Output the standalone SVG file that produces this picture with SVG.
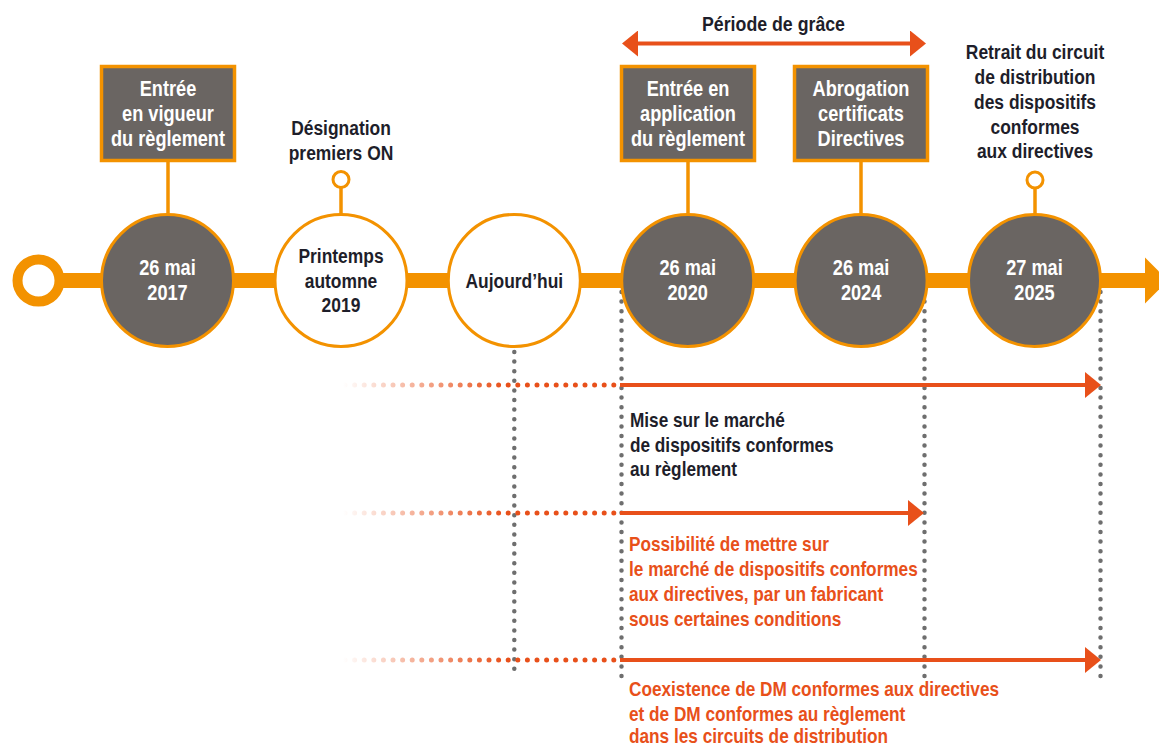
<svg xmlns="http://www.w3.org/2000/svg" width="1159" height="746" viewBox="0 0 1159 746">
<style>
text{font-family:"Liberation Sans",Arial,sans-serif;font-weight:bold;font-size:21px}
.w{fill:#ffffff;text-anchor:middle;font-size:21.5px}
.d{fill:#1e1e2a;text-anchor:middle}
.dl{fill:#1e1e2a}
.r{fill:#e8501a}
.dark{fill:#6a6562;stroke:#f39200;stroke-width:3}
.light{fill:#ffffff;stroke:#f39200;stroke-width:3}
.box{fill:#6a6562;stroke:#f39200;stroke-width:3.5}
.stem{stroke:#f39200;stroke-width:3.5;fill:none}
.ring{fill:#ffffff;stroke:#f39200;stroke-width:3}
.gdot{stroke:#6e6e6e;stroke-width:4.5;stroke-linecap:round;stroke-dasharray:0 9.6;fill:none}
.odot{stroke:url(#fade);stroke-width:5;stroke-linecap:round;stroke-dasharray:0 9.6;fill:none}
.rline{stroke:#e8501a;stroke-width:4;fill:none;marker-end:url(#rhead)}
</style>
<defs>
<marker id="rhead" markerUnits="userSpaceOnUse" markerWidth="16" markerHeight="26" refX="6" refY="13" orient="auto-start-reverse" viewBox="0 0 16 26">
<path d="M0,0 L16,13 L0,26 Z" fill="#e8501a"/>
</marker>
<linearGradient id="fade" gradientUnits="userSpaceOnUse" x1="343" y1="0" x2="505" y2="0">
<stop offset="0" stop-color="#e8501a" stop-opacity="0"/>
<stop offset="1" stop-color="#e8501a" stop-opacity="1"/>
</linearGradient>
</defs>
<rect width="1159" height="746" fill="#ffffff"/>
<g id="connectors">
<rect x="38" y="273" width="1110" height="15" fill="#f39200"/>
<path d="M1145,257.5 L1168,280.5 L1145,303.5 Z" fill="#f39200"/>
<line class="stem" x1="168" y1="162" x2="168" y2="215"/>
<line class="stem" x1="688" y1="162" x2="688" y2="215"/>
<line class="stem" x1="861" y1="162" x2="861" y2="215"/>
<line class="stem" x1="341" y1="188" x2="341" y2="215"/>
<line class="stem" x1="1035" y1="188" x2="1035" y2="215"/>
<line class="gdot" x1="514.3" y1="352" x2="514.3" y2="677"/>
<line class="gdot" x1="621.5" y1="292" x2="621.5" y2="677"/>
<line class="gdot" x1="924.5" y1="292" x2="924.5" y2="677"/>
<line class="gdot" x1="1100.5" y1="292" x2="1100.5" y2="677"/>
<line class="odot" x1="345" y1="385" x2="616" y2="385"/>
<line class="odot" x1="345" y1="513" x2="616" y2="513"/>
<line class="odot" x1="345" y1="660" x2="616" y2="660"/>
<line class="rline" x1="620" y1="385" x2="1091" y2="385"/>
<line class="rline" x1="620" y1="513" x2="914" y2="513"/>
<line class="rline" x1="620" y1="660" x2="1091" y2="660"/>
<line class="rline" x1="632" y1="43.5" x2="916" y2="43.5" marker-start="url(#rhead)"/>
</g>
<g id="start">
<circle cx="38.5" cy="280.5" r="21" fill="#ffffff" stroke="#f39200" stroke-width="10"/>
</g>
<g id="node-2017">
<circle class="dark" cx="167.5" cy="280.5" r="66"/>
<g transform="translate(167.5 0) scale(0.845 1)">
<text class="w" x="0" y="275.5">26 mai</text>
<text class="w" x="0" y="300.5">2017</text>
</g>
</g>
<g id="box-vigueur">
<rect class="box" x="101.5" y="66.5" width="133" height="94"/>
<g transform="translate(168 0) scale(0.845 1)">
<text class="w" x="0" y="96">Entrée</text>
<text class="w" x="0" y="121">en vigueur</text>
<text class="w" x="0" y="146">du règlement</text>
</g>
</g>
<g id="node-2019">
<circle class="light" cx="341" cy="280.5" r="66"/>
<g transform="translate(341 0) scale(0.83 1)">
<text class="d" x="0" y="263.5">Printemps</text>
<text class="d" x="0" y="288">automne</text>
<text class="d" x="0" y="312.5">2019</text>
</g>
</g>
<g id="label-designation">
<circle class="ring" cx="341" cy="179.5" r="8"/>
<g transform="translate(341 0) scale(0.83 1)">
<text class="d" x="0" y="135.5">Désignation</text>
<text class="d" x="0" y="160">premiers ON</text>
</g>
</g>
<g id="node-aujourdhui">
<circle class="light" cx="514.3" cy="280.5" r="66"/>
<g transform="translate(514.3 0) scale(0.83 1)">
<text class="d" x="0" y="288">Aujourd’hui</text>
</g>
</g>
<g id="node-2020">
<circle class="dark" cx="687.7" cy="280.5" r="66"/>
<g transform="translate(687.7 0) scale(0.845 1)">
<text class="w" x="0" y="275.5">26 mai</text>
<text class="w" x="0" y="300.5">2020</text>
</g>
</g>
<g id="box-application">
<rect class="box" x="621.5" y="66.5" width="133" height="94"/>
<g transform="translate(688 0) scale(0.845 1)">
<text class="w" x="0" y="96">Entrée en</text>
<text class="w" x="0" y="121">application</text>
<text class="w" x="0" y="146">du règlement</text>
</g>
</g>
<g id="node-2024">
<circle class="dark" cx="861.1" cy="280.5" r="66"/>
<g transform="translate(861.1 0) scale(0.845 1)">
<text class="w" x="0" y="275.5">26 mai</text>
<text class="w" x="0" y="300.5">2024</text>
</g>
</g>
<g id="box-abrogation">
<rect class="box" x="794.5" y="66.5" width="133" height="94"/>
<g transform="translate(861 0) scale(0.845 1)">
<text class="w" x="0" y="96">Abrogation</text>
<text class="w" x="0" y="121">certificats</text>
<text class="w" x="0" y="146">Directives</text>
</g>
</g>
<g id="node-2025">
<circle class="dark" cx="1034.5" cy="280.5" r="66"/>
<g transform="translate(1034.5 0) scale(0.845 1)">
<text class="w" x="0" y="275.5">27 mai</text>
<text class="w" x="0" y="300.5">2025</text>
</g>
</g>
<g id="label-retrait">
<circle class="ring" cx="1035" cy="180" r="8"/>
<g transform="translate(1035 0) scale(0.83 1)">
<text class="d" x="0" y="59.5">Retrait du circuit</text>
<text class="d" x="0" y="84.5">de distribution</text>
<text class="d" x="0" y="109.5">des dispositifs</text>
<text class="d" x="0" y="134">conformes</text>
<text class="d" x="0" y="158.5">aux directives</text>
</g>
</g>
<g id="label-grace">
<g transform="translate(773.5 0) scale(0.845 1)">
<text class="d" x="0" y="31.5">Période de grâce</text>
</g>
</g>
<g id="label-mise">
<g transform="translate(630 0) scale(0.82 1)">
<text class="dl" x="0" y="427.5">Mise sur le marché</text>
<text class="dl" x="0" y="452">de dispositifs conformes</text>
<text class="dl" x="0" y="476.5">au règlement</text>
</g>
</g>
<g id="label-possibilite">
<g transform="translate(629 0) scale(0.82 1)">
<text class="r" x="0" y="551">Possibilité de mettre sur</text>
<text class="r" x="0" y="576">le marché de dispositifs conformes</text>
<text class="r" x="0" y="601">aux directives, par un fabricant</text>
<text class="r" x="0" y="626">sous certaines conditions</text>
</g>
</g>
<g id="label-coexistence">
<g transform="translate(629 0) scale(0.82 1)">
<text class="r" x="0" y="696">Coexistence de DM conformes aux directives</text>
<text class="r" x="0" y="721">et de DM conformes au règlement</text>
<text class="r" x="0" y="743">dans les circuits de distribution</text>
</g>
</g>
</svg>
